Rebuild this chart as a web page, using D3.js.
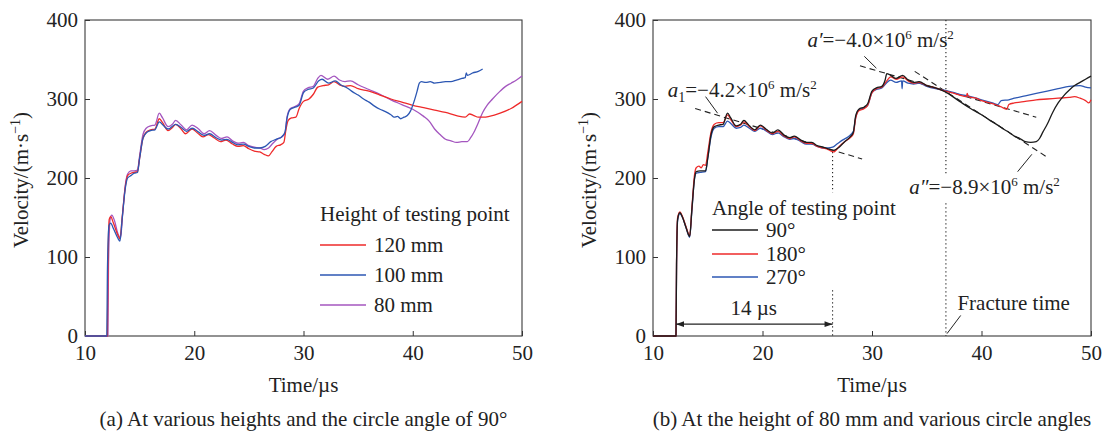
<!DOCTYPE html>
<meta charset="utf-8">
<style>
  body { margin: 0; background: #fff; }
  svg text { font-family: "Liberation Serif", "Times New Roman", serif; }
</style>
<svg width="1102" height="432"></svg>
<script src="https://d3js.org/d3.v7.min.js"></script>
<script>

  // ---- data (time in µs, velocity in m/s) ----
  var xTicks = [10, 20, 30, 40, 50],
    yTicks = [0, 100, 200, 300, 400];

  var red120 = [[10,0],[12.05,0],[12.1,85],[12.22,148],[12.35,151],[12.6,143],[13.0,128],[13.2,123],[13.4,150],[13.7,190],[13.9,203],[14.2,206],[14.5,207],[14.8,208],[15.0,225],[15.3,250],[15.6,258],[16.0,261],[16.4,262],[16.8,275],[17.1,270],[17.6,260],[18.0,264],[18.3,268],[18.8,262],[19.2,256],[19.8,262],[20.3,257],[20.8,252],[21.3,255],[21.8,251],[22.4,246],[22.9,248],[23.5,243],[24.0,240],[24.5,241],[25.0,237],[25.5,234],[26.0,233],[26.4,230],[26.8,228],[27.1,233],[27.5,240],[27.9,242],[28.2,245],[28.4,262],[28.6,273],[28.9,276],[29.3,277],[29.6,288],[30.0,297],[30.5,300],[30.9,306],[31.3,315],[31.8,317],[32.3,318],[32.8,322],[33.3,318],[33.8,316],[34.3,317],[35,313],[36,310],[37,305],[38,300],[39,296],[40,292],[41,289],[42,286],[43,283],[44,279],[44.8,277],[45.2,281],[45.6,279],[46,277],[46.5,277],[47,278],[48,282],[49,288],[50,297]];

  var blue100 = [[10,0],[12.0,0],[12.05,80],[12.2,140],[12.35,143],[12.6,136],[13.0,124],[13.2,120],[13.4,148],[13.7,188],[13.9,200],[14.2,203],[14.5,206],[14.8,207],[15.0,225],[15.3,250],[15.6,257],[16.0,260],[16.4,261],[16.8,271],[17.2,266],[17.6,262],[18.3,268],[18.8,264],[19.3,259],[19.8,263],[20.4,258],[20.9,254],[21.4,256],[22.0,251],[22.5,248],[23.0,249],[23.5,245],[24.0,242],[24.5,243],[25.0,240],[25.5,238],[26.0,238],[26.5,240],[27.0,246],[27.5,249],[28.0,252],[28.3,258],[28.5,276],[28.8,287],[29.3,290],[29.6,292],[30.0,308],[30.4,312],[30.9,314],[31.4,323],[31.7,325],[32.3,320],[32.9,323],[33.4,318],[34,314],[34.5,309],[35,305],[35.5,300],[36,296],[36.5,291],[37,287],[37.5,284],[38,280],[38.3,277],[38.6,278],[38.9,275],[39.2,277],[39.5,279],[39.8,285],[40.1,296],[40.4,310],[40.6,320],[40.8,322],[41.2,321],[41.6,322],[42,320],[42.5,321],[43,322],[43.5,322],[44,324],[44.5,326],[44.8,327],[44.9,333],[45,330],[45.5,333],[46,335],[46.4,338]];

  var purple80 = [[10,0],[12.1,0],[12.15,90],[12.3,148],[12.45,153],[12.7,146],[13.0,130],[13.25,124],[13.45,155],[13.7,192],[13.9,205],[14.2,209],[14.5,209],[14.8,210],[15.0,228],[15.3,255],[15.6,263],[16.0,266],[16.4,267],[16.8,282],[17.1,276],[17.6,265],[18.0,268],[18.3,273],[18.8,267],[19.3,261],[19.8,267],[20.4,262],[20.9,256],[21.4,260],[22.0,254],[22.5,250],[23.0,252],[23.5,247],[24.0,244],[24.5,245],[25.0,241],[25.5,239],[26.0,238],[26.4,236],[26.8,238],[27.2,244],[27.6,249],[28.0,252],[28.3,256],[28.5,278],[28.8,288],[29.3,291],[29.6,294],[30.0,310],[30.4,314],[30.9,316],[31.3,326],[31.6,330],[32.2,325],[32.8,329],[33.3,324],[33.8,322],[34.3,323],[35,318],[36,312],[37,306],[38,299],[39,293],[40,287],[41,278],[41.5,272],[42,262],[42.5,255],[43,249],[43.5,247],[44,245],[44.5,246],[45,246],[45.3,251],[45.6,258],[46,270],[46.4,283],[46.8,292],[47.3,300],[48,310],[48.5,316],[49,320],[49.5,324],[50,329]];

  var black90 = [[10,0],[12.1,0],[12.15,90],[12.25,148],[12.45,156],[12.7,150],[13.0,138],[13.35,126],[13.55,160],[13.8,200],[13.95,208],[14.3,209],[14.8,209],[15.0,225],[15.3,255],[15.6,265],[16.0,267],[16.4,268],[16.8,282],[17.1,276],[17.6,266],[18.0,268],[18.3,273],[18.8,266],[19.3,261],[19.8,267],[20.4,261],[20.9,257],[21.4,261],[22.0,254],[22.5,251],[22.9,253],[23.5,248],[24.0,245],[24.5,245],[25.0,241],[25.5,239],[26.0,237],[26.5,235],[27.0,239],[27.5,246],[28.0,252],[28.3,258],[28.5,278],[28.8,287],[29.3,290],[29.6,294],[30.0,310],[30.4,314],[30.9,316],[31.2,324],[31.35,332],[31.7,330],[32.2,326],[32.8,330],[33.3,324],[33.8,321],[34.3,322],[35,317],[35.8,314],[36.7,309],[38,297],[39,288],[39.5,284],[40,280],[41,271],[41.8,264],[42,262],[42.5,258],[43,253],[43.5,250],[44,246],[44.5,245],[45,246],[45.3,250],[45.6,258],[46,268],[46.5,283],[47,295],[47.5,304],[48,311],[48.5,317],[49,321],[49.5,325],[50,329]];

  var red180 = [[10,0],[12.1,0],[12.15,92],[12.25,150],[12.45,157],[12.7,151],[13.0,139],[13.35,127],[13.55,162],[13.8,205],[13.95,213],[14.2,215],[14.4,213],[14.6,217],[14.8,216],[15.0,232],[15.3,258],[15.6,268],[16.0,270],[16.4,270],[16.8,280],[17.1,274],[17.6,265],[18.0,267],[18.3,271],[18.8,265],[19.3,260],[19.8,266],[20.4,260],[20.9,256],[21.4,259],[22.0,253],[22.5,250],[22.9,252],[23.5,247],[24.0,244],[24.5,244],[25.0,240],[25.5,238],[26.0,236],[26.5,233],[27.0,240],[27.5,246],[28.0,251],[28.3,256],[28.5,275],[28.8,285],[29.3,288],[29.6,292],[30.0,308],[30.4,313],[30.9,315],[31.3,322],[31.7,328],[32.2,325],[32.8,328],[33.3,323],[33.8,320],[34.3,321],[35,317],[35.8,314],[36.7,310],[37.5,307],[38,305],[38.6,303],[38.7,307],[38.8,303],[39.5,301],[40,298],[41,294],[41.8,290],[42.3,287],[42.5,293],[43,295],[44,297],[45,299],[46,300],[47,301],[48,302],[48.5,303],[49,301],[49.5,298],[49.8,295],[50,299]];

  var blue270 = [[10,0],[12.1,0],[12.15,88],[12.25,146],[12.45,155],[12.7,150],[13.0,138],[13.35,125],[13.55,158],[13.8,200],[13.95,206],[14.3,207],[14.8,208],[15.0,225],[15.3,252],[15.6,263],[16.0,265],[16.4,265],[16.8,272],[17.1,269],[17.6,263],[18.0,264],[18.3,267],[18.8,263],[19.3,259],[19.8,263],[20.4,259],[20.9,255],[21.4,257],[22.0,252],[22.5,249],[22.9,250],[23.5,246],[24.0,243],[24.5,243],[25.0,240],[25.5,238],[26.0,238],[26.4,239],[26.8,243],[27.3,248],[27.8,252],[28.3,259],[28.5,276],[28.8,286],[29.3,289],[29.6,292],[30.0,308],[30.4,312],[30.9,314],[31.3,320],[31.7,324],[32.2,321],[32.7,323],[32.75,313],[32.8,323],[33.3,320],[33.8,319],[34.3,320],[35,316],[35.8,313],[36.7,311],[37.5,308],[38,306],[39,303],[40,299],[41,295],[41.5,293],[41.8,298],[42.5,299],[43,301],[44,304],[45,307],[46,310],[47,313],[48,316],[49,317],[49.5,315],[50,314]];

  var heightLabels = ["120 mm", "100 mm", "80 mm"],
    angleLabels = ["90°", "180°", "270°"];

  // tangent lines (slopes a1, a', a'') as [t, v] end points
  var tangentA1 = [[13.85, 288], [29.1, 224]],
    tangentA1p = [[28.9, 342], [45.0, 277]],
    tangentA2p = [[33.9, 335], [46.15, 225]];
  var fractureTime = 36.75, turnTime = 26.4, impactTime = 12.1;

  // ---- layout ----
  var svg = d3.select("svg");
  var fontSize = 21;

  function makePanel(box) {
    var x = d3.scaleLinear().domain([10, 50]).range([box.left, box.right]);
    var y = d3.scaleLinear().domain([0, 400]).range([box.bottom, box.top]);
    var g = svg.append("g");

    g.append("g")
      .attr("transform", "translate(0," + box.bottom + ")")
      .call(d3.axisBottom(x).tickValues(xTicks).tickSizeInner(-5).tickSizeOuter(0))
      .attr("font-family", null).attr("font-size", null)
      .call(function (a) {
        a.select(".domain").remove();
        a.selectAll("line").attr("stroke", "#333");
        a.selectAll("text").attr("y", 24).attr("dy", null)
          .attr("font-size", fontSize).attr("fill", "#222");
      });

    g.append("g")
      .attr("transform", "translate(" + box.left + ",0)")
      .call(d3.axisLeft(y).tickValues(yTicks).tickSizeInner(-5).tickSizeOuter(0).tickPadding(7))
      .attr("font-family", null).attr("font-size", null)
      .call(function (a) {
        a.select(".domain").remove();
        a.selectAll("line").attr("stroke", "#333");
        a.selectAll("text").attr("dy", "0.33em")
          .attr("font-size", fontSize).attr("fill", "#222");
      });

    g.append("rect")
      .attr("x", box.left).attr("y", box.top)
      .attr("width", box.right - box.left).attr("height", box.bottom - box.top)
      .attr("fill", "none").attr("stroke", "#3a3a3a").attr("stroke-width", 1.1);

    g.append("text")
      .attr("x", (box.left + box.right) / 2).attr("y", 392)
      .attr("text-anchor", "middle").attr("font-size", fontSize).attr("fill", "#222")
      .text("Time/µs");

    var yl = g.append("text")
      .attr("transform", "translate(" + (box.left - 57) + "," + ((box.top + box.bottom) / 2 + 2) + ") rotate(-90)")
      .attr("text-anchor", "middle").attr("font-size", fontSize).attr("fill", "#222");
    yl.append("tspan").text("Velocity/(m·s");
    yl.append("tspan").attr("dy", -8).attr("font-size", 14).text("−1");
    yl.append("tspan").attr("dy", 8).text(")");

    g.append("text")
      .attr("x", (box.left + box.right) / 2).attr("y", 426)
      .attr("text-anchor", "middle").attr("font-size", 21).attr("fill", "#222")
      .text(box.caption);

    return { x: x, y: y, g: g };
  }

  function drawSeries(p, series) {
    var line = d3.line()
      .x(function (d) { return p.x(d[0]); })
      .y(function (d) { return p.y(d[1]); })
      .curve(d3.curveMonotoneX);
    p.g.selectAll(null)
      .data(series)
      .enter().append("path")
      .attr("d", function (s) { return line(s.values); })
      .attr("fill", "none")
      .attr("stroke", function (s) { return s.color; })
      .attr("stroke-width", 1.3)
      .attr("stroke-linejoin", "round");
  }

  function drawLegend(p, title, items, x0, yTitle, yRows) {
    p.g.append("text").attr("x", x0).attr("y", yTitle).attr("dy", "0.33em")
      .attr("font-size", fontSize).attr("fill", "#222").text(title);
    items.forEach(function (it, i) {
      p.g.append("line")
        .attr("x1", x0).attr("x2", x0 + 46)
        .attr("y1", yRows[i]).attr("y2", yRows[i])
        .attr("stroke", it.color).attr("stroke-width", 1.3);
      p.g.append("text").attr("x", x0 + 54).attr("y", yRows[i]).attr("dy", "0.33em")
        .attr("font-size", fontSize).attr("fill", "#222").text(it.label);
    });
  }

  // ---- panel (a) ----
  var colRed = "#ee2a2a", colBlue = "#2c57b3", colPurple = "#a456bf", colBlack = "#1c1c1c";

  var pa = makePanel({ left: 85, right: 522, top: 20, bottom: 336,
    caption: "(a) At various heights and the circle angle of 90°" });
  drawSeries(pa, [
    { values: purple80, color: colPurple },
    { values: red120, color: colRed },
    { values: blue100, color: colBlue }
  ]);
  drawLegend(pa, "Height of testing point", [
    { label: heightLabels[0], color: colRed },
    { label: heightLabels[1], color: colBlue },
    { label: heightLabels[2], color: colPurple }
  ], 320, 214, [245, 275, 305]);

  // ---- panel (b) ----
  var pb = makePanel({ left: 653, right: 1091, top: 20, bottom: 336,
    caption: "(b) At the height of 80 mm and various circle angles" });

  var ann = pb.g.append("g").attr("stroke", "#222").attr("fill", "none");
  [tangentA1, tangentA1p, tangentA2p].forEach(function (t) {
    ann.append("line")
      .attr("x1", pb.x(t[0][0])).attr("y1", pb.y(t[0][1]))
      .attr("x2", pb.x(t[1][0])).attr("y2", pb.y(t[1][1]))
      .attr("stroke-width", 1.1).attr("stroke-dasharray", "6,4");
  });

  function vdots(t, v0, v1) {
    ann.append("line")
      .attr("x1", pb.x(t)).attr("x2", pb.x(t))
      .attr("y1", pb.y(v0)).attr("y2", pb.y(v1))
      .attr("stroke-width", 1.1).attr("stroke-dasharray", "1.2,2.8");
  }
  vdots(turnTime, 233, 182);
  vdots(turnTime, 58, 0);
  vdots(fractureTime, 400, 206);
  vdots(fractureTime, 168, 0);

  drawSeries(pb, [
    { values: blue270, color: colBlue },
    { values: red180, color: colRed },
    { values: black90, color: colBlack }
  ]);

  // leader lines
  var leaders = [[[14.8, 303], [15.9, 282]], [[29.3, 354], [30.4, 339]],
    [[43.3, 208], [44.6, 230]], [[36.85, 3], [38.1, 26]]];
  leaders.forEach(function (l) {
    pb.g.append("line")
      .attr("x1", pb.x(l[0][0])).attr("y1", pb.y(l[0][1]))
      .attr("x2", pb.x(l[1][0])).attr("y2", pb.y(l[1][1]))
      .attr("stroke", "#222").attr("stroke-width", 1);
  });

  // 14 µs double arrow
  var defs = svg.append("defs");
  defs.append("marker").attr("id", "ah").attr("viewBox", "0 0 10 10")
    .attr("refX", 10).attr("refY", 5).attr("markerWidth", 10).attr("markerHeight", 8)
    .attr("markerUnits", "userSpaceOnUse").attr("orient", "auto-start-reverse")
    .append("path").attr("d", "M0,1.5L10,5L0,8.5Z").attr("fill", "#222");
  pb.g.append("line")
    .attr("x1", pb.x(impactTime)).attr("x2", pb.x(turnTime))
    .attr("y1", pb.y(15)).attr("y2", pb.y(15))
    .attr("stroke", "#222").attr("stroke-width", 1.2)
    .attr("marker-start", "url(#ah)").attr("marker-end", "url(#ah)");
  pb.g.append("text").attr("x", pb.x(19.2)).attr("y", pb.y(26))
    .attr("text-anchor", "middle").attr("font-size", fontSize).attr("fill", "#222").text("14 µs");
  pb.g.append("text").attr("x", pb.x(37.8)).attr("y", pb.y(33))
    .attr("font-size", fontSize).attr("fill", "#222").text("Fracture time");

  function accelLabel(t, v, name, sub, value) {
    var tx = pb.g.append("text").attr("x", pb.x(t)).attr("y", pb.y(v))
      .attr("font-size", fontSize).attr("fill", "#222");
    tx.append("tspan").attr("font-style", "italic").text(name);
    var shift = 0;
    if (sub) { tx.append("tspan").attr("dy", 5).attr("font-size", 14).text(sub); shift = -5; }
    tx.append("tspan").attr("dy", shift).text("=−" + value + "×10");
    tx.append("tspan").attr("dy", -8).attr("font-size", 13).text("6");
    tx.append("tspan").attr("dy", 8).text(" m/s");
    tx.append("tspan").attr("dy", -8).attr("font-size", 13).text("2");
  }
  accelLabel(11.35, 302, "a", "1", "4.2");
  accelLabel(24.1, 366, "a′", null, "4.0");
  accelLabel(33.4, 180, "a″", null, "8.9");

  drawLegend(pb, "Angle of testing point", [
    { label: angleLabels[0], color: colBlack },
    { label: angleLabels[1], color: colRed },
    { label: angleLabels[2], color: colBlue }
  ], 712, 208, [230, 254, 277]);

</script>
